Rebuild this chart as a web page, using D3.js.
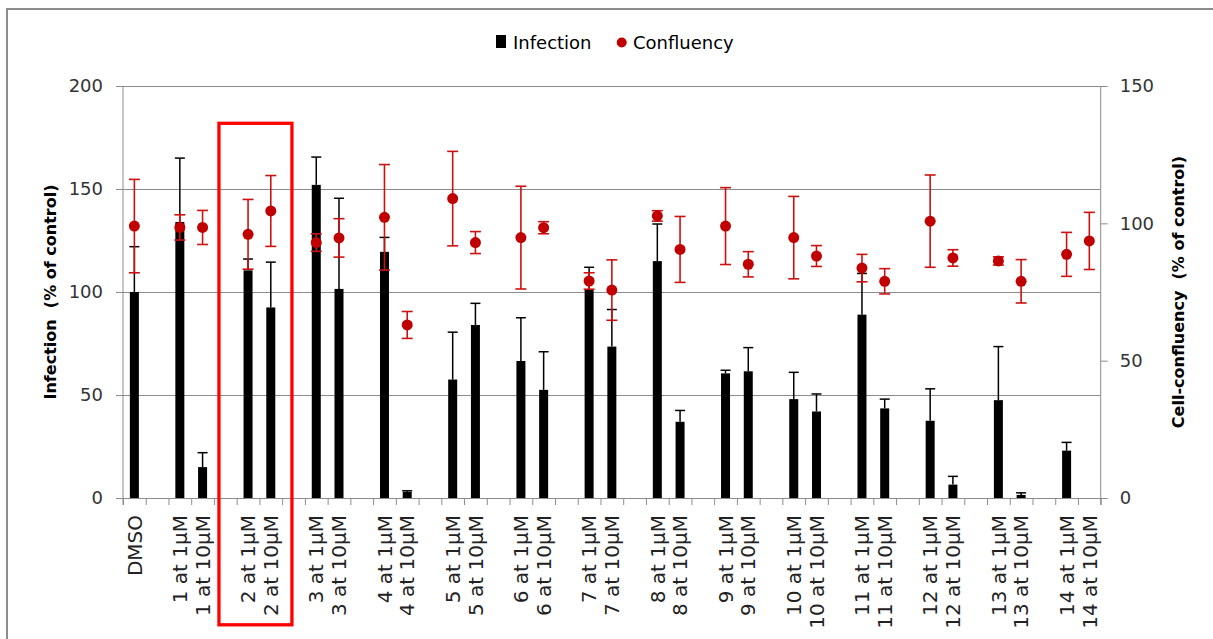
<!DOCTYPE html>
<html>
<head>
<meta charset="utf-8">
<script src="https://cdn.jsdelivr.net/npm/d3@7"></script>
<style>
  html, body { margin: 0; padding: 0; background: #fff; }
  svg { display: block; }
  text { font-family: "DejaVu Sans", Verdana, sans-serif; }
</style>
</head>
<body>
<svg id="chart" width="1213" height="639"></svg>
<script>
// ---- data ----
const categories = [
  "DMSO", "",
  "1 at 1µM", "1 at 10µM", "",
  "2 at 1µM", "2 at 10µM", "",
  "3 at 1µM", "3 at 10µM", "",
  "4 at 1µM", "4 at 10µM", "",
  "5 at 1µM", "5 at 10µM", "",
  "6 at 1µM", "6 at 10µM", "",
  "7 at 1µM", "7 at 10µM", "",
  "8 at 1µM", "8 at 10µM", "",
  "9 at 1µM", "9 at 10µM", "",
  "10 at 1µM", "10 at 10µM", "",
  "11 at 1µM", "11 at 10µM", "",
  "12 at 1µM", "12 at 10µM", "",
  "13 at 1µM", "13 at 10µM", "",
  "14 at 1µM", "14 at 10µM"
];
const infection = [
  100, null,
  134, 15, null,
  110.5, 92.5, null,
  152, 101.5, null,
  119.5, 3, null,
  57.5, 84, null,
  66.5, 52.5, null,
  101.5, 73.5, null,
  115, 37, null,
  60.5, 61.5, null,
  48, 42, null,
  89, 43.5, null,
  37.5, 6.5, null,
  47.5, 1.5, null,
  23, null
];
const infectionErr = [
  22, null,
  31, 7, null,
  5.5, 22, null,
  13.5, 44, null,
  7, 0.5, null,
  23, 10.5, null,
  21, 18.5, null,
  10.5, 18, null,
  18, 5.5, null,
  1.5, 11.5, null,
  13, 8.5, null,
  20, 4.5, null,
  15.5, 4, null,
  26, 1, null,
  4, null
];
const confluency = [
  99, null,
  98.5, 98.5, null,
  96, 104.5, null,
  93, 94.7, null,
  102.2, 63, null,
  109, 93, null,
  94.8, 98.4, null,
  79, 75.7, null,
  102.7, 90.5, null,
  99, 85.1, null,
  94.8, 88.1, null,
  83.7, 78.9, null,
  100.8, 87.4, null,
  86.3, 78.9, null,
  88.7, 93.6
];
const confluencyErr = [
  17, null,
  4.6, 6.2, null,
  12.7, 12.9, null,
  3.2, 7, null,
  19.2, 4.9, null,
  17.2, 4, null,
  18.7, 2.2, null,
  3, 11, null,
  1.9, 12, null,
  14, 4.6, null,
  15, 3.8, null,
  5, 4.6, null,
  16.8, 3, null,
  1.5, 7.9, null,
  8, 10.4
];
const leftTicks = [0, 50, 100, 150, 200];
const rightTicks = [0, 50, 100, 150];
const gridTicks = [50, 100, 150, 200];
const highlighted = ["2 at 1µM", "2 at 10µM"];

// ---- layout ----
const svg = d3.select("#chart");
const plot = { left: 123, right: 1100.7, top: 86, bottom: 498 };
const GRAY = "#8c8c8c";
const RED = "#c00000";

const idx = d3.range(categories.length);
const x = d3.scaleBand().domain(idx).range([plot.left, plot.right]).padding(0);
const xEdge = d3.scaleLinear().domain([0, categories.length]).range([plot.left, plot.right]);
const yL = d3.scaleLinear().domain([0, 200]).range([plot.bottom, plot.top]);
const yR = d3.scaleLinear().domain([0, 150]).range([plot.bottom, plot.top]);
const cx = i => x(i) + x.bandwidth() / 2;

// outer frame
svg.append("rect").attr("x", 7).attr("y", 9).attr("width", 1240).attr("height", 680)
  .attr("fill", "none").attr("stroke", GRAY).attr("stroke-width", 2);

// gridlines
const grid = svg.append("g").attr("transform", `translate(${plot.left},0)`)
  .call(d3.axisLeft(yL).tickValues(gridTicks).tickSize(-(plot.right - plot.left)).tickFormat(""));
grid.select(".domain").remove();
grid.selectAll("line").attr("stroke", GRAY).attr("stroke-width", 1);

// left axis
const axL = svg.append("g").attr("transform", `translate(${plot.left},0)`)
  .call(d3.axisLeft(yL).tickValues(leftTicks).tickSize(7).tickPadding(13).tickSizeOuter(0));
axL.select(".domain").attr("stroke", GRAY).attr("d", `M0,${plot.top}V${plot.bottom + 7}`);
axL.selectAll("line").attr("stroke", GRAY);
axL.selectAll("text").attr("font-size", 18).attr("fill", "#333").attr("font-family", "DejaVu Sans");

// right axis
const axR = svg.append("g").attr("transform", `translate(${plot.right},0)`)
  .call(d3.axisRight(yR).tickValues(rightTicks).tickSize(7).tickPadding(12).tickSizeOuter(0));
axR.select(".domain").attr("stroke", GRAY).attr("d", `M0,${plot.top}V${plot.bottom + 7}`);
axR.selectAll("line").attr("stroke", GRAY);
axR.selectAll("text").attr("font-size", 18).attr("fill", "#333").attr("font-family", "DejaVu Sans");

// x axis: boundary ticks
const axXt = svg.append("g").attr("transform", `translate(0,${plot.bottom})`)
  .call(d3.axisBottom(xEdge).tickValues(d3.range(categories.length + 1)).tickSize(7).tickFormat("").tickSizeOuter(0));
axXt.select(".domain").attr("stroke", GRAY);
axXt.selectAll("line").attr("stroke", GRAY);

// x axis: labels
const axX = svg.append("g").attr("transform", `translate(0,${plot.bottom})`)
  .call(d3.axisBottom(x).tickSize(0).tickFormat(i => categories[i]));
axX.select(".domain").remove();
axX.selectAll("text")
  .attr("font-size", 20).attr("fill", "#222").attr("font-family", "DejaVu Sans")
  .attr("text-anchor", "end")
  .attr("transform", "translate(0,17) rotate(-90)")
  .attr("x", 0).attr("y", 0).attr("dy", "0.36em");

// bars
const barW = 9;
const barData = idx.filter(i => infection[i] != null);
svg.append("g").selectAll("rect").data(barData).join("rect")
  .attr("x", i => cx(i) - barW / 2)
  .attr("width", barW)
  .attr("y", i => yL(infection[i]))
  .attr("height", i => yL(0) - yL(infection[i]))
  .attr("fill", "#000");

// black error bars (plus direction; minus hidden inside the bar)
const capW = 10;
const ebB = svg.append("g").attr("stroke", "#000").attr("stroke-width", 1.5);
barData.filter(i => infectionErr[i] != null).forEach(i => {
  const hi = yL(infection[i] + infectionErr[i]);
  const top = yL(infection[i]);
  ebB.append("line").attr("x1", cx(i)).attr("x2", cx(i)).attr("y1", hi).attr("y2", top);
  ebB.append("line").attr("x1", cx(i) - capW / 2).attr("x2", cx(i) + capW / 2).attr("y1", hi).attr("y2", hi);
});

// red error bars + dots
const dotData = idx.filter(i => confluency[i] != null);
const ebR = svg.append("g").attr("stroke", "#cc1111").attr("stroke-width", 1.6);
dotData.forEach(i => {
  const hi = yR(confluency[i] + confluencyErr[i]);
  const lo = yR(confluency[i] - confluencyErr[i]);
  ebR.append("line").attr("x1", cx(i)).attr("x2", cx(i)).attr("y1", hi).attr("y2", lo);
  ebR.append("line").attr("x1", cx(i) - 5.5).attr("x2", cx(i) + 5.5).attr("y1", hi).attr("y2", hi);
  ebR.append("line").attr("x1", cx(i) - 5.5).attr("x2", cx(i) + 5.5).attr("y1", lo).attr("y2", lo);
});
svg.append("g").selectAll("circle").data(dotData).join("circle")
  .attr("cx", cx).attr("cy", i => yR(confluency[i])).attr("r", 5.5).attr("fill", RED);

// axis titles
svg.append("text").attr("transform", `translate(50,${(plot.top + plot.bottom) / 2}) rotate(-90)`)
  .attr("text-anchor", "middle").attr("dy", "0.35em")
  .attr("font-size", 16).attr("font-weight", "bold").attr("fill", "#000")
  .style("white-space", "pre").text("Infection  (% of control)");
svg.append("text").attr("transform", `translate(1178,${(plot.top + plot.bottom) / 2}) rotate(-90)`)
  .attr("text-anchor", "middle").attr("dy", "0.35em")
  .attr("font-size", 16).attr("font-weight", "bold").attr("fill", "#000")
  .style("white-space", "pre").text("Cell-confluency  (% of control)");

// legend
const lg = svg.append("g");
lg.append("rect").attr("x", 496).attr("y", 35).attr("width", 10).attr("height", 13).attr("fill", "#000");
lg.append("text").attr("x", 513).attr("y", 48.5).attr("font-size", 18).attr("fill", "#000").text("Infection");
lg.append("circle").attr("cx", 621.7).attr("cy", 42.5).attr("r", 5).attr("fill", RED);
lg.append("text").attr("x", 633).attr("y", 48.5).attr("font-size", 18).attr("fill", "#000").text("Confluency");

// highlight box around compound 2
const hiIdx = highlighted.map(c => categories.indexOf(c));
const bx0 = x(hiIdx[0]) - x.step() * 0.78;
const bx1 = x(hiIdx[1]) + x.step() * 1.43;
svg.append("rect").attr("x", bx0).attr("y", 123.3).attr("width", bx1 - bx0).attr("height", 501.5)
  .attr("fill", "none").attr("stroke", "#ff0000").attr("stroke-width", 3.3);
</script>
</body>
</html>
